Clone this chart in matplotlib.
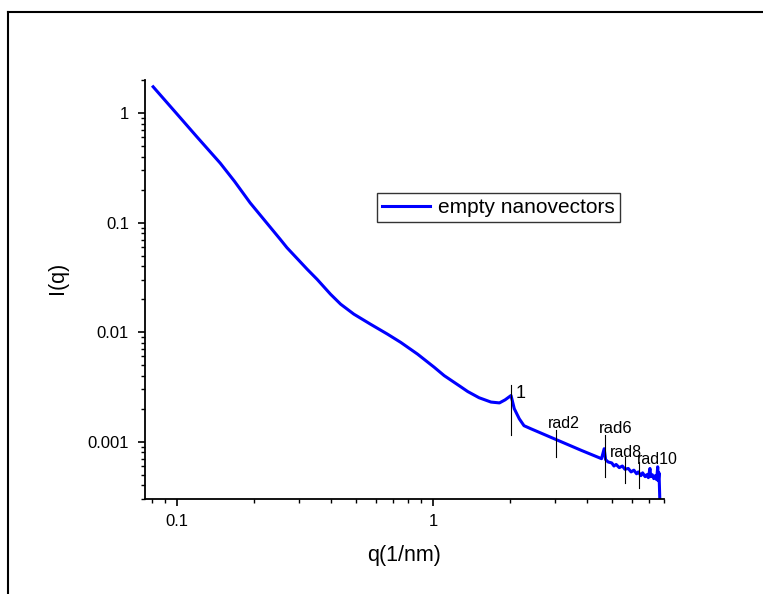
import matplotlib
matplotlib.use("Agg")
import matplotlib.pyplot as plt
from matplotlib.ticker import FixedLocator, FixedFormatter, LogLocator, NullFormatter
from matplotlib.lines import Line2D

plt.rcParams['font.family'] = ['Liberation Sans', 'DejaVu Sans']

# data
q = [0.0807, 0.1, 0.1194, 0.1475, 0.168, 0.1933, 0.2535, 0.269, 0.323, 0.353, 0.398,
     0.436, 0.491, 0.571, 0.664, 0.749, 0.871, 1.012, 1.107, 1.288, 1.368,
     1.515, 1.687, 1.82, 1.915, 2.02, 2.08, 2.175, 2.27, 2.42, 2.99, 3.80,
     4.56, 4.67, 4.73, 4.84, 5.0, 5.1, 5.2, 5.35, 5.5, 5.63, 5.8, 5.95, 6.1,
     6.25, 6.35, 6.5, 6.6, 6.75, 6.85, 6.95, 7.05, 7.1, 7.2, 7.3, 7.4, 7.49,
     7.56, 7.6, 7.65, 7.71]
I = [1.734, 0.979, 0.609, 0.349, 0.237, 0.151, 0.0701, 0.059, 0.0374, 0.0303, 0.0222,
     0.0180, 0.0146, 0.0118, 0.0096, 0.00806, 0.0063, 0.00478, 0.00401,
     0.00316, 0.00287, 0.00252, 0.00230, 0.00226, 0.00241, 0.00264, 0.0020,
     0.00162, 0.0014, 0.00131, 0.00106, 0.000834, 0.000700, 0.000863,
     0.000686, 0.000653, 0.00064, 0.00060, 0.00062, 0.00058, 0.00060, 0.00056,
     0.00057, 0.00053, 0.00055, 0.00051, 0.00053, 0.00049, 0.00052, 0.00048,
     0.00050, 0.00047, 0.00057, 0.00048, 0.00050, 0.00046, 0.00049, 0.00045,
     0.00059, 0.00044, 0.00052, 0.00028]

marker_q = [2.02, 3.02, 4.70, 5.63, 6.39]
marker_lo = [0.00114, 0.000726, 0.000478, 0.000424, 0.000379]
marker_hi = [0.0033, 0.00127, 0.00116, 0.000726, 0.000654]
marker_labels = ['1', 'rad2', 'rad6', 'rad8', 'rad10']
label_pos_q = [2.10, 3.26, 5.16, 5.70, 7.56]
label_pos_I = [0.00273, 0.00147, 0.00133, 0.000803, 0.000686]
label_ha = ['left', 'center', 'center', 'center', 'center']
label_size = [13, 11.5, 12, 11.5, 11.5]

ytick_vals = [0.001, 0.01, 0.1, 1]
ytick_labels = ['0.001', '0.01', '0.1', '1']
xtick_vals = [0.1, 1]
xtick_labels = ['0.1', '1']

fig = plt.figure(figsize=(7.63, 5.94), dpi=100)
ax = fig.add_axes([145/763, 1-499/594, (664-145)/763, (499-80)/594])

ax.plot(q, I, color='#0000FF', lw=2.2, label='empty nanovectors', solid_joinstyle='round')
for mq, lo, hi in zip(marker_q, marker_lo, marker_hi):
    ax.plot([mq, mq], [lo, hi], color='black', lw=0.8)
for lab, lq, li, ha, fs in zip(marker_labels, label_pos_q, label_pos_I, label_ha, label_size):
    ax.text(lq, li, lab, fontsize=fs, ha=ha, va='center')

ax.set_xscale('log')
ax.set_yscale('log')
ax.set_xlim(0.075, 8)
ax.set_ylim(3e-4, 2)

ax.yaxis.set_major_locator(FixedLocator(ytick_vals))
ax.yaxis.set_major_formatter(FixedFormatter(ytick_labels))
ax.yaxis.set_minor_locator(LogLocator(base=10, subs=range(2, 10)))
ax.yaxis.set_minor_formatter(NullFormatter())
ax.xaxis.set_major_locator(FixedLocator(xtick_vals))
ax.xaxis.set_major_formatter(FixedFormatter(xtick_labels))
ax.xaxis.set_minor_locator(LogLocator(base=10, subs=range(2, 10)))
ax.xaxis.set_minor_formatter(NullFormatter())

for s in ['top', 'right']:
    ax.spines[s].set_visible(False)
for s in ['left', 'bottom']:
    ax.spines[s].set_linewidth(1.3)
ax.tick_params(which='major', direction='out', length=5, width=1.2, labelsize=12)
ax.tick_params(which='minor', direction='out', length=3, width=1.0)
ax.tick_params(axis='y', which='major', pad=6.5)
ax.tick_params(axis='x', which='major', pad=5.5)

fig.text(404/763, 1-555/594, 'q(1/nm)', fontsize=15.5, ha='center', va='center')
fig.text(57.5/763, 1-277.5/594, 'I(q)', fontsize=15.5, ha='center', va='center', rotation=90)

leg = ax.legend(loc='upper left', bbox_to_anchor=(376.7/763, 1-192.7/594),
                bbox_transform=fig.transFigure, fontsize=15, frameon=True,
                fancybox=False, borderaxespad=0, borderpad=0.25, handlelength=2.3,
                handletextpad=0.4)
leg.get_frame().set_edgecolor('black')
leg.get_frame().set_linewidth(1.0)

# outer frame (top and left edges)
fig.add_artist(Line2D([8/763, 1], [1-12/594, 1-12/594], transform=fig.transFigure, color='black', lw=1.5))
fig.add_artist(Line2D([8/763, 8/763], [0, 1-12/594], transform=fig.transFigure, color='black', lw=1.5))

fig.savefig('out.png', dpi=100)
